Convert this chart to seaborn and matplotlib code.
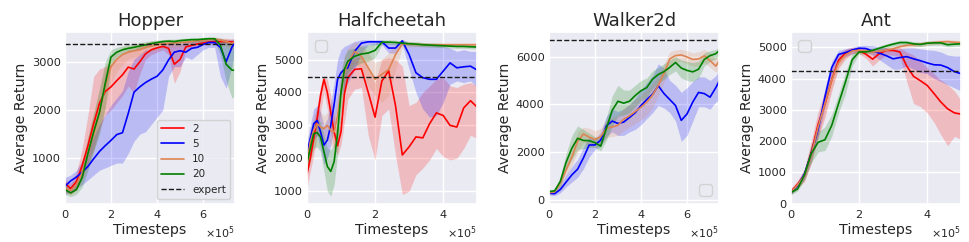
import numpy as np
import matplotlib
matplotlib.use('Agg')
import matplotlib.pyplot as plt
import seaborn as sns
from matplotlib.ticker import MultipleLocator

# ---- Hopper (timesteps in units of 1e5) ----
hopper_x = [0, 0.25, 0.5, 0.75, 1.0, 1.25, 1.5, 1.75, 2.0, 2.25, 2.5, 2.75, 3.0, 3.25, 3.5, 3.75,
            4.0, 4.25, 4.5, 4.75, 5.0, 5.25, 5.5, 5.75, 6.0, 6.25, 6.5, 6.75, 7.0, 7.25, 7.4]
hopper_2 = [480, 370, 515, 850, 1260, 1720, 2140, 2385, 2480, 2610, 2730, 2890, 2850, 3000, 3165, 3250,
            3290, 3320, 3280, 2950, 3050, 3310, 3340, 3370, 3390, 3410, 3420, 3420, 3420, 3410, 3410]
hopper_2_lo = [300, 250, 350, 600, 900, 1200, 1600, 1900, 2000, 2150, 2300, 2500, 2350, 2750, 3050, 3150,
               3200, 3250, 3150, 2550, 2800, 3250, 3300, 3330, 3350, 3370, 3380, 3380, 3380, 3370, 3370]
hopper_2_hi = [560, 480, 700, 1200, 1900, 2700, 2850, 2900, 2950, 3050, 3150, 3250, 3250, 3350, 3380, 3400,
               3420, 3420, 3430, 3350, 3350, 3430, 3440, 3450, 3460, 3470, 3480, 3480, 3480, 3470, 3470]
hopper_5 = [420, 530, 610, 710, 830, 990, 1140, 1260, 1370, 1490, 1530, 1930, 2370, 2480, 2570, 2640,
            2700, 2830, 3040, 3200, 3230, 3200, 3280, 3300, 3360, 3400, 3400, 3300, 3000, 3300, 3420]
hopper_5_lo = [250, 300, 380, 450, 550, 650, 750, 800, 850, 900, 900, 1100, 1350, 1500, 1550, 1700,
               1850, 2000, 2700, 2900, 2900, 3100, 3050, 3150, 3250, 3300, 3300, 2700, 2450, 2900, 3300]
hopper_5_hi = [600, 650, 750, 950, 1200, 1450, 1700, 1900, 2100, 2250, 2400, 2800, 3050, 3150, 3250, 3250,
               3300, 3350, 3400, 3400, 3380, 3420, 3420, 3480, 3480, 3500, 3500, 3480, 3450, 3470, 3480]
hopper_10 = [380, 330, 450, 700, 1100, 1500, 1950, 2500, 2900, 3050, 3150, 3200, 3230, 3250, 3300, 3330,
             3350, 3370, 3380, 3390, 3400, 3410, 3420, 3440, 3450, 3460, 3470, 3450, 3420, 3380, 3420]
hopper_10_lo = [300, 250, 330, 500, 800, 1150, 1550, 2050, 2550, 2800, 2950, 3050, 3100, 3120, 3180, 3220,
                3250, 3280, 3300, 3300, 3320, 3330, 3350, 3380, 3400, 3410, 3420, 3380, 3320, 3250, 3330]
hopper_10_hi = [480, 450, 600, 950, 1450, 1900, 2400, 2900, 3150, 3200, 3300, 3330, 3350, 3380, 3400, 3420,
                3440, 3450, 3450, 3460, 3470, 3480, 3480, 3490, 3500, 3500, 3510, 3500, 3490, 3470, 3480]
hopper_20 = [350, 280, 350, 600, 1100, 1550, 1950, 2550, 3100, 3200, 3250, 3280, 3300, 3330, 3350, 3380,
             3400, 3420, 3430, 3420, 3440, 3450, 3460, 3460, 3470, 3480, 3480, 3350, 2950, 2830, 2820]
hopper_20_lo = [250, 200, 250, 400, 750, 1150, 1500, 2050, 2900, 3100, 3150, 3200, 3230, 3260, 3280, 3320,
                3350, 3370, 3380, 3360, 3390, 3400, 3410, 3410, 3420, 3430, 3430, 3150, 2600, 2250, 2300]
hopper_20_hi = [450, 380, 480, 850, 1450, 1950, 2450, 3000, 3250, 3300, 3330, 3350, 3370, 3400, 3420, 3440,
                3450, 3460, 3470, 3470, 3480, 3490, 3500, 3500, 3510, 3510, 3510, 3490, 3450, 3400, 3420]
hopper_expert = 3370

# ---- Halfcheetah ----
cheetah_x = [0, 0.1, 0.2, 0.3, 0.4, 0.5, 0.6, 0.7, 0.8, 0.9, 1.0, 1.1, 1.2, 1.4, 1.6, 1.8,
             2.0, 2.2, 2.4, 2.6, 2.8, 3.0, 3.2, 3.4, 3.6, 3.8, 4.0, 4.2, 4.4, 4.6, 4.8, 5.0]
cheetah_2 = [1500, 2000, 2600, 3200, 3900, 4400, 4000, 3400, 2800, 2380, 2800, 3950, 4450, 4700, 4720, 4000,
             3250, 4350, 4660, 3600, 2100, 2350, 2650, 2620, 3050, 3380, 3300, 3000, 2950, 3530, 3750, 3550]
cheetah_2_lo = [1100, 1600, 2100, 2700, 3400, 4000, 3500, 2800, 2300, 2100, 2400, 3100, 3800, 4100, 4150, 2700,
                1950, 3300, 3500, 2100, 900, 1000, 1500, 1700, 1950, 2300, 2050, 1950, 2000, 2300, 2700, 2600]
cheetah_2_hi = [1900, 2500, 3100, 3600, 4200, 4500, 4400, 3900, 3300, 2700, 3300, 4600, 4950, 5050, 5100, 4700,
                4300, 5000, 5050, 5000, 4800, 3600, 3700, 4000, 4200, 4400, 4450, 4200, 4150, 4250, 4300, 4200]
cheetah_5 = [2150, 2600, 3050, 3150, 2800, 2400, 2550, 3000, 3650, 4400, 4600, 4700, 4750, 5250, 5500, 5540,
             5540, 5540, 5350, 5350, 5570, 5150, 4600, 4450, 4400, 4400, 4650, 4900, 4750, 4780, 4800, 4680]
cheetah_5_lo = [1900, 2200, 2600, 2700, 2300, 1800, 2000, 2400, 3000, 3600, 3900, 4100, 4300, 4700, 5200, 5450,
                5450, 5450, 5200, 5200, 5450, 4700, 4000, 3500, 3250, 3300, 3700, 4250, 4350, 4300, 4350, 4150]
cheetah_5_hi = [2500, 3000, 3500, 3600, 3400, 3000, 3200, 3700, 4300, 5000, 5300, 5400, 5450, 5550, 5600, 5600,
                5600, 5600, 5500, 5500, 5620, 5500, 5450, 5450, 5450, 5450, 5400, 5350, 5250, 5300, 5250, 5250]
cheetah_10 = [1900, 2500, 2850, 3050, 2950, 2900, 3000, 2850, 2800, 3300, 4000, 4600, 4900, 5250, 5100, 4750,
              4400, 4550, 4700, 5150, 5480, 5470, 5460, 5455, 5450, 5450, 5450, 5450, 5450, 5450, 5450, 5450]
cheetah_10_lo = [1500, 2100, 2500, 2700, 2550, 2500, 2600, 2400, 2300, 2700, 3400, 4000, 4400, 4900, 4650, 4200,
                 3900, 3700, 3900, 4700, 5350, 5380, 5390, 5390, 5390, 5390, 5390, 5390, 5390, 5390, 5390, 5390]
cheetah_10_hi = [2300, 2900, 3300, 3500, 3400, 3300, 3400, 3250, 3300, 3900, 4600, 5100, 5350, 5550, 5450, 5200,
                 4900, 5000, 5200, 5450, 5580, 5550, 5530, 5520, 5510, 5510, 5510, 5510, 5510, 5510, 5510, 5510]
cheetah_20 = [1850, 2300, 2750, 2780, 2650, 2200, 1750, 1600, 1900, 2750, 4000, 4700, 4950, 5100, 5170, 5200,
              5280, 5530, 5530, 5520, 5500, 5480, 5470, 5450, 5440, 5430, 5420, 5410, 5400, 5400, 5390, 5380]
cheetah_20_lo = [1500, 1900, 2300, 2350, 2200, 1600, 1000, 850, 1200, 2100, 3300, 4200, 4600, 4800, 4900, 4950,
                 5050, 5450, 5460, 5450, 5440, 5420, 5410, 5390, 5380, 5370, 5360, 5350, 5340, 5340, 5330, 5320]
cheetah_20_hi = [2200, 2700, 3150, 3200, 3100, 2700, 2300, 2250, 2450, 3300, 4600, 5100, 5300, 5350, 5400, 5450,
                 5500, 5600, 5600, 5590, 5570, 5550, 5540, 5520, 5510, 5500, 5490, 5480, 5470, 5470, 5460, 5450]
cheetah_expert = 4460

# ---- Walker2d ----
walker_x = hopper_x
walker_5 = [280, 260, 440, 750, 1050, 1290, 1760, 2300, 2300, 2500, 3100, 3300, 3200, 3260, 3450, 3650,
            3950, 4200, 4420, 4780, 4450, 4200, 3950, 3330, 3600, 4100, 4500, 4450, 4300, 4700, 4980]
walker_5_lo = [200, 180, 300, 550, 750, 950, 1300, 1800, 2100, 2250, 2650, 2850, 2700, 2700, 2850, 2950,
               3150, 3400, 3650, 3950, 3850, 3650, 3300, 2450, 2700, 3300, 3900, 3900, 3800, 4100, 4200]
walker_5_hi = [380, 350, 650, 1050, 1400, 1700, 2200, 2650, 2550, 2850, 3500, 3800, 3700, 3800, 4000, 4250,
               4600, 4900, 5200, 5700, 5500, 5000, 4800, 4500, 4700, 4950, 5150, 5150, 5000, 5200, 5420]
walker_10 = [300, 340, 700, 1260, 1800, 2450, 2760, 2630, 2530, 2650, 3000, 3050, 3130, 3380, 3520, 3700,
             3880, 4090, 4380, 4790, 5300, 5900, 6040, 6070, 5980, 5880, 5900, 6030, 5830, 5600, 5830]
walker_10_lo = [220, 260, 500, 1000, 1450, 2000, 2400, 2250, 2200, 2300, 2600, 2650, 2700, 2900, 3050, 3200,
                3350, 3550, 3850, 4350, 4900, 5600, 5750, 5800, 5700, 5600, 5600, 5750, 5550, 5350, 5500]
walker_10_hi = [380, 420, 900, 1550, 2150, 2850, 3050, 3000, 2900, 3000, 3350, 3450, 3550, 3850, 4000, 4200,
                4400, 4600, 4850, 5200, 5700, 6200, 6280, 6300, 6250, 6150, 6200, 6300, 6150, 5900, 6050]
walker_20 = [350, 380, 780, 1580, 2170, 2580, 2490, 2480, 2400, 2250, 3000, 3750, 4130, 4050, 4130, 4370,
             4570, 4700, 5050, 5250, 5370, 5550, 5750, 5520, 5420, 5360, 5470, 5880, 6040, 6120, 6250]
walker_20_lo = [280, 300, 580, 1250, 1700, 2100, 2150, 2200, 2200, 2050, 2500, 3100, 3500, 3550, 3650, 3900,
                4150, 4300, 4650, 4900, 5050, 5250, 5400, 5100, 5000, 4950, 5100, 5600, 5800, 5900, 6050]
walker_20_hi = [420, 450, 1000, 1950, 2700, 3100, 2950, 2800, 2650, 2600, 3450, 4350, 4800, 4600, 4600, 4800,
                5000, 5100, 5400, 5550, 5700, 5850, 6000, 5850, 5800, 5750, 5800, 6150, 6250, 6300, 6400]
walker_expert = 6690

# ---- Ant ----
ant_x = [0, 0.2, 0.4, 0.6, 0.8, 1.0, 1.2, 1.4, 1.6, 1.8, 2.0, 2.2, 2.4, 2.6, 2.8, 3.0,
         3.2, 3.4, 3.6, 3.8, 4.0, 4.2, 4.4, 4.6, 4.8, 5.0]
ant_2 = [380, 620, 910, 1640, 2530, 3180, 3950, 4580, 4810, 4910, 4900, 4780, 4620, 4800, 4900, 4900,
         4850, 4400, 4070, 3930, 3780, 3520, 3250, 3030, 2900, 2860]
ant_2_lo = [300, 500, 700, 1300, 2100, 2750, 3600, 4350, 4650, 4800, 4800, 4650, 4400, 4600, 4750, 4750,
            4700, 3900, 3200, 3100, 2900, 2600, 2200, 1850, 2150, 2050]
ant_2_hi = [480, 750, 1100, 2000, 2950, 3600, 4300, 4800, 4950, 5000, 5000, 4950, 4850, 4950, 5000, 5000,
            4980, 4850, 4750, 4550, 4350, 4150, 3950, 3800, 3600, 3300]
ant_5 = [350, 570, 950, 1600, 2370, 3400, 4350, 4770, 4830, 4910, 4970, 4960, 4880, 4810, 4730, 4630,
         4670, 4700, 4630, 4570, 4500, 4440, 4430, 4350, 4220, 4150]
ant_5_lo = [280, 480, 800, 1400, 2150, 3100, 4100, 4600, 4700, 4800, 4880, 4880, 4750, 4600, 4450, 4300,
            4300, 4400, 4300, 4200, 4150, 4000, 3900, 3800, 3700, 3600]
ant_5_hi = [430, 680, 1100, 1800, 2600, 3700, 4550, 4900, 4950, 5000, 5050, 5060, 5050, 5000, 4980, 4950,
            4950, 4980, 4980, 4950, 4920, 4900, 4850, 4750, 4720, 4720]
ant_10 = [350, 600, 900, 1550, 2450, 3200, 3950, 4500, 4750, 4880, 4900, 4880, 4850, 4870, 4900, 4950,
          5020, 5060, 5080, 5100, 5130, 5150, 5170, 5180, 5160, 5150]
ant_10_lo = [280, 500, 750, 1300, 2150, 2900, 3700, 4300, 4600, 4780, 4820, 4800, 4780, 4800, 4830, 4880,
             4950, 4990, 5010, 5030, 5060, 5080, 5100, 5110, 5090, 5080]
ant_10_hi = [430, 700, 1050, 1800, 2750, 3500, 4200, 4700, 4900, 4980, 4980, 4960, 4930, 4950, 4970, 5020,
             5090, 5130, 5150, 5170, 5200, 5220, 5240, 5250, 5230, 5220]
ant_20 = [350, 470, 920, 1600, 1960, 2040, 2500, 3200, 3880, 4600, 4850, 4850, 4900, 4970, 5040, 5100,
          5150, 5150, 5110, 5090, 5130, 5140, 5140, 5080, 5100, 5110]
ant_20_lo = [280, 400, 750, 1300, 1650, 1700, 2150, 2900, 3500, 4400, 4780, 4780, 4830, 4900, 4970, 5030,
             5080, 5080, 5040, 5020, 5060, 5070, 5070, 5010, 5030, 5040]
ant_20_hi = [420, 540, 1100, 1900, 2300, 2450, 2850, 3500, 4200, 4800, 4920, 4920, 4970, 5040, 5110, 5170,
             5220, 5220, 5180, 5160, 5200, 5210, 5210, 5150, 5170, 5180]
ant_expert = 4240

colors = {'2': 'red', '5': 'blue', '10': '#dd8452', '20': 'green'}

sns.set_theme(style='darkgrid')
plt.rcParams['font.family'] = ['DejaVu Sans']

fig, axes = plt.subplots(1, 4, figsize=(9.69, 2.42), dpi=100)
fig.subplots_adjust(left=0.067, right=0.992, bottom=0.157, top=0.868, wspace=0.42)


def draw(ax, steps, runs, expert, title, ylim, ystep):
    x = np.array(steps) * 1e5
    for name, (mean, lo, hi) in runs.items():
        ax.fill_between(x, lo, hi, color=colors[name], alpha=0.2, lw=0)
    for name, (mean, lo, hi) in runs.items():
        sns.lineplot(x=x, y=mean, color=colors[name], lw=1.2, label=name, legend=False, ax=ax)
    ax.axhline(expert, color='k', ls='--', lw=1, label='expert')
    ax.set_xlim(x[0], x[-1])
    ax.set_ylim(*ylim)
    ax.xaxis.set_major_locator(MultipleLocator(2e5))
    ax.yaxis.set_major_locator(MultipleLocator(ystep))
    ax.ticklabel_format(axis='x', style='sci', scilimits=(0, 0), useMathText=True)
    ax.xaxis.get_offset_text().set_fontsize(8)
    ax.tick_params(labelsize=8.2, length=0, pad=3)
    ax.set_title(title, fontsize=13, pad=4)
    ax.set_xlabel('Timesteps', fontsize=10.3, labelpad=2)
    ax.set_ylabel('Average Return', fontsize=10.3, labelpad=3)


draw(axes[0], hopper_x,
     {'2': (hopper_2, hopper_2_lo, hopper_2_hi), '5': (hopper_5, hopper_5_lo, hopper_5_hi),
      '10': (hopper_10, hopper_10_lo, hopper_10_hi), '20': (hopper_20, hopper_20_lo, hopper_20_hi)},
     hopper_expert, 'Hopper', (50, 3620), 1000)
axes[0].legend(loc='lower right', fontsize=7.5, labelspacing=0.5, handlelength=2.2)

draw(axes[1], cheetah_x,
     {'2': (cheetah_2, cheetah_2_lo, cheetah_2_hi), '5': (cheetah_5, cheetah_5_lo, cheetah_5_hi),
      '10': (cheetah_10, cheetah_10_lo, cheetah_10_hi), '20': (cheetah_20, cheetah_20_lo, cheetah_20_hi)},
     cheetah_expert, 'Halfcheetah', (610, 5840), 1000)
axes[1].legend(handles=[], loc='upper left')

draw(axes[2], walker_x,
     {'5': (walker_5, walker_5_lo, walker_5_hi), '10': (walker_10, walker_10_lo, walker_10_hi),
      '20': (walker_20, walker_20_lo, walker_20_hi)},
     walker_expert, 'Walker2d', (-170, 7030), 2000)
axes[2].legend(handles=[], loc='lower right')

draw(axes[3], ant_x,
     {'2': (ant_2, ant_2_lo, ant_2_hi), '5': (ant_5, ant_5_lo, ant_5_hi),
      '10': (ant_10, ant_10_lo, ant_10_hi), '20': (ant_20, ant_20_lo, ant_20_hi)},
     ant_expert, 'Ant', (-15, 5490), 1000)
axes[3].legend(handles=[], loc='upper left')

fig.savefig('out.png', dpi=100)
